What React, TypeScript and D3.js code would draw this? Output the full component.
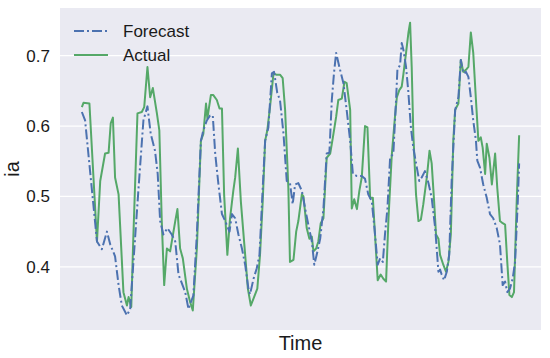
import { useEffect, useRef } from "react";
import * as d3 from "d3";

// time step (hour index) and value pairs
const forecastT = [0, 1.2, 5.6, 7.4, 9.3, 10.5, 12.3, 13.6, 14.8, 16.7, 17.9, 21, 22.8, 24.3, 25.5, 27.1, 28.1, 29, 30.2, 31.7, 33.3, 34.6, 35.8, 38.3, 39.5, 40.4, 41.3, 42.6, 44.1, 45, 46.3, 47.5, 48.5, 49.4, 50.6, 51.9, 53.1, 54.7, 55.6, 56.8, 58, 59.3, 60.5, 61.7, 62.3, 63.6, 64.8, 65.8, 67, 67.9, 69.1, 70.4, 71.2, 72.4, 73.4, 74.7, 75.9, 77.1, 78.1, 79, 80.2, 81.5, 82.7, 83.9, 85.2, 86.1, 87, 88.3, 89.5, 90.7, 91.7, 92.6, 93.4, 94.2, 95.4, 96.9, 98.1, 99.4, 100.4, 101.9, 103.7, 104.9, 106.1, 107.4, 108.4, 109.6, 110.5, 111.5, 112.3, 113.2, 114.2, 115.4, 116.4, 116.9, 117.9, 118.5, 119.1, 120.1, 120.9, 121.9, 122.8, 124.1, 125, 125.9, 127.1, 128.4, 129.6, 130.9, 132.1, 132.7, 133.3, 134.2, 135.2, 136.1, 137, 138.3, 139.5, 140.4, 141.3, 142.3, 143.2, 144.1, 145, 146, 146.5, 147.5, 148.7, 150, 151.2, 152.4, 153.7, 154.9, 155.9, 156.8, 157.6, 158.6, 159.6, 160.5, 161.5, 162];
const forecastV = [0.62, 0.608, 0.436, 0.425, 0.45, 0.432, 0.415, 0.374, 0.345, 0.331, 0.34, 0.512, 0.608, 0.628, 0.589, 0.565, 0.532, 0.465, 0.446, 0.455, 0.446, 0.436, 0.389, 0.364, 0.34, 0.35, 0.359, 0.446, 0.579, 0.594, 0.608, 0.615, 0.615, 0.561, 0.517, 0.475, 0.465, 0.45, 0.475, 0.469, 0.446, 0.426, 0.403, 0.369, 0.361, 0.383, 0.398, 0.417, 0.512, 0.579, 0.598, 0.675, 0.677, 0.647, 0.637, 0.589, 0.522, 0.519, 0.489, 0.517, 0.519, 0.508, 0.483, 0.46, 0.436, 0.403, 0.417, 0.44, 0.483, 0.561, 0.562, 0.637, 0.675, 0.704, 0.684, 0.661, 0.623, 0.579, 0.532, 0.529, 0.529, 0.525, 0.503, 0.493, 0.455, 0.403, 0.412, 0.407, 0.446, 0.483, 0.555, 0.561, 0.637, 0.68, 0.687, 0.718, 0.709, 0.684, 0.651, 0.598, 0.569, 0.541, 0.522, 0.527, 0.536, 0.519, 0.498, 0.455, 0.393, 0.396, 0.389, 0.381, 0.393, 0.417, 0.522, 0.623, 0.641, 0.694, 0.675, 0.677, 0.67, 0.641, 0.608, 0.579, 0.551, 0.541, 0.517, 0.498, 0.475, 0.469, 0.455, 0.432, 0.374, 0.379, 0.364, 0.369, 0.383, 0.407, 0.493, 0.547];

const actualT = [0, 0.6, 2.8, 5.6, 6.8, 8.6, 9.9, 10.7, 11.5, 12.3, 13.6, 15.4, 16.7, 17.3, 18.3, 19.1, 20.6, 22.2, 23.1, 24.3, 25.3, 26.3, 27.8, 28.7, 29.6, 30.5, 31.5, 32.7, 34.6, 35.4, 36.4, 37.4, 38.9, 40.1, 41.1, 42.6, 44.1, 45, 46, 46.5, 47.8, 48.7, 50, 51, 51.9, 52.7, 53.9, 54.9, 56.1, 56.8, 57.8, 58.9, 60.5, 61.5, 62.6, 63.8, 65, 66, 67, 67.9, 68.7, 69.7, 71, 72, 73.4, 74.4, 75.3, 76.5, 77.1, 78.4, 79.4, 80.2, 81.5, 82.1, 83.3, 84.3, 85.2, 85.8, 86.8, 87.6, 88.5, 89.5, 90.7, 92, 93, 94.2, 95, 96.3, 97.3, 98.1, 99.4, 100, 100.9, 101.9, 102.8, 103.7, 104.9, 105.8, 106.8, 107.8, 108.6, 109.6, 110.7, 111.7, 112.7, 113.6, 114.8, 116, 116.7, 117.6, 118.5, 119.1, 120.1, 121, 121.6, 122.2, 122.8, 123.8, 124.7, 125.6, 126.5, 127.8, 128.8, 129.6, 130.5, 131.2, 132.1, 132.7, 133.9, 134.9, 135.8, 136.7, 137.6, 138.3, 139.5, 140.4, 141.3, 142.3, 143.2, 144.1, 145, 146, 146.9, 147.8, 148.5, 149.4, 150, 151, 151.9, 153.1, 153.9, 154.9, 155.9, 156.8, 157.6, 158.4, 159.3, 160.1, 161.1, 162];
const actualV = [0.627, 0.633, 0.632, 0.436, 0.522, 0.561, 0.562, 0.604, 0.612, 0.527, 0.503, 0.364, 0.345, 0.357, 0.343, 0.446, 0.618, 0.62, 0.627, 0.684, 0.641, 0.654, 0.618, 0.594, 0.465, 0.374, 0.426, 0.422, 0.465, 0.482, 0.426, 0.412, 0.369, 0.35, 0.338, 0.426, 0.579, 0.589, 0.632, 0.611, 0.644, 0.644, 0.637, 0.625, 0.625, 0.503, 0.417, 0.469, 0.508, 0.527, 0.568, 0.493, 0.417, 0.369, 0.345, 0.357, 0.369, 0.417, 0.493, 0.579, 0.594, 0.627, 0.675, 0.673, 0.673, 0.668, 0.623, 0.512, 0.407, 0.41, 0.45, 0.465, 0.503, 0.5, 0.455, 0.44, 0.443, 0.422, 0.426, 0.436, 0.462, 0.469, 0.555, 0.561, 0.584, 0.613, 0.637, 0.639, 0.663, 0.661, 0.623, 0.483, 0.496, 0.482, 0.508, 0.527, 0.6, 0.598, 0.498, 0.498, 0.446, 0.381, 0.389, 0.383, 0.379, 0.469, 0.558, 0.613, 0.641, 0.651, 0.656, 0.673, 0.704, 0.733, 0.747, 0.684, 0.589, 0.503, 0.465, 0.467, 0.489, 0.527, 0.565, 0.547, 0.493, 0.446, 0.44, 0.417, 0.403, 0.393, 0.407, 0.446, 0.579, 0.623, 0.632, 0.694, 0.677, 0.68, 0.684, 0.733, 0.704, 0.637, 0.579, 0.584, 0.569, 0.532, 0.575, 0.555, 0.517, 0.561, 0.512, 0.465, 0.462, 0.46, 0.407, 0.36, 0.357, 0.364, 0.493, 0.587];

const yTicks = [0.4, 0.5, 0.6, 0.7];

const BLUE = "#4C72B0";
const GREEN = "#55A868";
const FONT = "'Liberation Sans', Arial, sans-serif";

export default function App() {
  const svgRef = useRef<SVGSVGElement>(null);

  useEffect(() => {
    const svg = d3.select(svgRef.current);
    svg.selectAll("*").remove();

    const width = 550;
    const height = 358;
    const margin = { top: 8, right: 9, bottom: 28, left: 60 };
    const w = width - margin.left - margin.right;
    const h = height - margin.top - margin.bottom;

    const g = svg.append("g").attr("transform", `translate(${margin.left},${margin.top})`);

    const allV = forecastV.concat(actualV);
    const vMin = d3.min(allV) as number;
    const vMax = d3.max(allV) as number;
    const vPad = (vMax - vMin) * 0.05;
    const tMin = 0;
    const tMax = d3.max(forecastT) as number;
    const tPad = (tMax - tMin) * 0.05;

    const x = d3.scaleLinear().domain([tMin - tPad, tMax + tPad]).range([0, w]);
    const y = d3.scaleLinear().domain([vMin - vPad, vMax + vPad]).range([h, 0]);

    g.append("rect").attr("width", w).attr("height", h).attr("fill", "#EAEAF2");

    // horizontal grid
    g.selectAll(".grid")
      .data(yTicks)
      .enter()
      .append("line")
      .attr("x1", 0)
      .attr("x2", w)
      .attr("y1", (d) => y(d))
      .attr("y2", (d) => y(d))
      .attr("stroke", "white")
      .attr("stroke-width", 1.2);

    // y tick labels
    g.selectAll(".ytick")
      .data(yTicks)
      .enter()
      .append("text")
      .attr("x", -10)
      .attr("y", (d) => y(d))
      .attr("dy", "0.35em")
      .attr("text-anchor", "end")
      .style("font-family", FONT)
      .style("font-size", "17px")
      .attr("fill", "#1a1a1a")
      .text((d) => d3.format(".1f")(d));

    const line = d3.line<[number, number]>()
      .x((d) => x(d[0]))
      .y((d) => y(d[1]));

    g.append("path")
      .datum(actualT.map((t, i) => [t, actualV[i]] as [number, number]))
      .attr("d", line)
      .attr("fill", "none")
      .attr("stroke", GREEN)
      .attr("stroke-width", 2)
      .attr("stroke-linejoin", "round");

    g.append("path")
      .datum(forecastT.map((t, i) => [t, forecastV[i]] as [number, number]))
      .attr("d", line)
      .attr("fill", "none")
      .attr("stroke", BLUE)
      .attr("stroke-width", 2)
      .attr("stroke-dasharray", "10,3,2,3")
      .attr("stroke-linejoin", "round");

    // legend
    const legend = g.append("g").attr("transform", "translate(14,23)");
    const items = [
      { label: "Forecast", color: BLUE, dash: "10,3,2,3" },
      { label: "Actual", color: GREEN, dash: null },
    ];
    items.forEach((it, i) => {
      const row = legend.append("g").attr("transform", `translate(0,${i * 24})`);
      row.append("line")
        .attr("x1", 0)
        .attr("x2", 34)
        .attr("stroke", it.color)
        .attr("stroke-width", 2)
        .attr("stroke-dasharray", it.dash);
      row.append("text")
        .attr("x", 49)
        .attr("dy", "0.35em")
        .style("font-family", FONT)
        .style("font-size", "17px")
        .attr("fill", "#1a1a1a")
        .text(it.label);
    });

    // axis labels
    svg.append("text")
      .attr("x", margin.left + w / 2)
      .attr("y", 350)
      .attr("text-anchor", "middle")
      .style("font-family", FONT)
      .style("font-size", "20px")
      .attr("fill", "#1a1a1a")
      .text("Time");

    svg.append("text")
      .attr("transform", `translate(19,${margin.top + h / 2}) rotate(-90)`)
      .attr("text-anchor", "middle")
      .style("font-family", FONT)
      .style("font-size", "20px")
      .attr("fill", "#1a1a1a")
      .text("ia");
  }, []);

  return (
    <svg
      ref={svgRef}
      width={550}
      height={358}
      style={{ position: "absolute", left: 0, top: 0, background: "white" }}
    />
  );
}
